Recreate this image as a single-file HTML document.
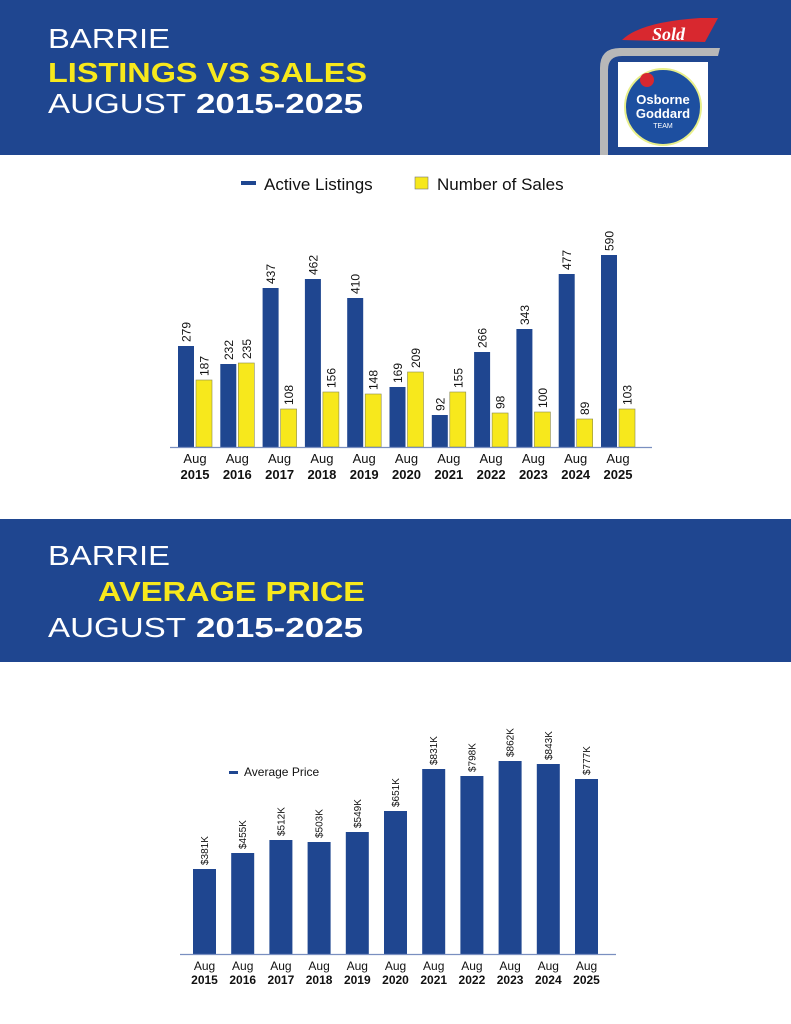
<!DOCTYPE html>
<html><head><meta charset="utf-8"><style>
html,body{margin:0;padding:0;background:#fff;}
svg{display:block;font-family:"Liberation Sans",Arial,sans-serif;}
</style></head><body>
<svg width="791" height="1024" viewBox="0 0 791 1024" xmlns="http://www.w3.org/2000/svg">
<rect x="0" y="0" width="791" height="155" fill="#1f4690"/>
<rect x="0" y="519" width="791" height="143" fill="#1f4690"/>
<g font-size="28" fill="#fff">
<text x="48" y="48" textLength="122" lengthAdjust="spacingAndGlyphs">BARRIE</text>
<text x="48" y="82" font-weight="bold" fill="#f7e81c" textLength="319" lengthAdjust="spacingAndGlyphs">LISTINGS VS SALES</text>
<text x="48" y="113" textLength="138" lengthAdjust="spacingAndGlyphs">AUGUST</text>
<text x="196" y="113" font-weight="bold" textLength="167" lengthAdjust="spacingAndGlyphs">2015-2025</text>
<text x="48" y="565" textLength="122" lengthAdjust="spacingAndGlyphs">BARRIE</text>
<text x="98" y="601" font-weight="bold" fill="#f7e81c" textLength="267" lengthAdjust="spacingAndGlyphs">AVERAGE PRICE</text>
<text x="48" y="637" textLength="138" lengthAdjust="spacingAndGlyphs">AUGUST</text>
<text x="196" y="637" font-weight="bold" textLength="167" lengthAdjust="spacingAndGlyphs">2015-2025</text>
</g>
<!-- logo -->
<path d="M622 40 Q640 22 700 18 L718 18 L705 42 Z" fill="#d8282f"/>
<text x="652" y="40" font-size="18" font-style="italic" font-weight="bold" fill="#fff" font-family="Liberation Serif,serif">Sold</text>
<path d="M600 155 L600 68 Q600 48 620 48 L720 48 L718 56 L622 56 Q608 56 608 70 L608 155 Z" fill="#b8b8b8"/>
<rect x="618" y="62" width="90" height="85" fill="#fff"/>
<circle cx="663" cy="107" r="38" fill="#1d4fa0" stroke="#e8ef8a" stroke-width="2"/>
<circle cx="647" cy="80" r="7" fill="#d8282f"/>
<text x="663" y="104" font-size="13" font-weight="bold" fill="#fff" text-anchor="middle">Osborne</text>
<text x="663" y="118" font-size="13" font-weight="bold" fill="#fff" text-anchor="middle">Goddard</text>
<text x="663" y="128" font-size="7" fill="#fff" text-anchor="middle">TEAM</text>
<!-- top legend -->
<rect x="241" y="181" width="15" height="4" fill="#1f4690"/>
<text x="264" y="190" font-size="17" fill="#111">Active Listings</text>
<rect x="415" y="177" width="13" height="12" fill="#f7e81c" stroke="#777" stroke-width="0.6"/>
<text x="437" y="190" font-size="17" fill="#111">Number of Sales</text>
<!-- top chart -->
<g fill="#1f4690">
<rect x="178" y="346" width="16" height="101"/>
<rect x="220.3" y="364" width="16" height="83"/>
<rect x="262.6" y="288" width="16" height="159"/>
<rect x="304.9" y="279" width="16" height="168"/>
<rect x="347.2" y="298" width="16" height="149"/>
<rect x="389.5" y="387" width="16" height="60"/>
<rect x="431.8" y="415" width="16" height="32"/>
<rect x="474.1" y="352" width="16" height="95"/>
<rect x="516.4" y="329" width="16" height="118"/>
<rect x="558.7" y="274" width="16" height="173"/>
<rect x="601" y="255" width="16" height="192"/>
</g>
<g fill="#f7e81c" stroke="#8a8a50" stroke-width="0.6">
<rect x="196" y="380" width="16" height="67"/>
<rect x="238.3" y="363" width="16" height="84"/>
<rect x="280.6" y="409" width="16" height="38"/>
<rect x="322.9" y="392" width="16" height="55"/>
<rect x="365.2" y="394" width="16" height="53"/>
<rect x="407.5" y="372" width="16" height="75"/>
<rect x="449.8" y="392" width="16" height="55"/>
<rect x="492.1" y="413" width="16" height="34"/>
<rect x="534.4" y="412" width="16" height="35"/>
<rect x="576.7" y="419" width="16" height="28"/>
<rect x="619" y="409" width="16" height="38"/>
</g>
<line x1="170" y1="447.5" x2="652" y2="447.5" stroke="#7a8fc0" stroke-width="1.2"/>
<g font-size="12" fill="#111">
<text transform="translate(190.5,342) rotate(-90)">279</text>
<text transform="translate(208.5,376) rotate(-90)">187</text>
<text transform="translate(232.8,360) rotate(-90)">232</text>
<text transform="translate(250.8,359) rotate(-90)">235</text>
<text transform="translate(275.1,284) rotate(-90)">437</text>
<text transform="translate(293.1,405) rotate(-90)">108</text>
<text transform="translate(317.4,275) rotate(-90)">462</text>
<text transform="translate(335.4,388) rotate(-90)">156</text>
<text transform="translate(359.7,294) rotate(-90)">410</text>
<text transform="translate(377.7,390) rotate(-90)">148</text>
<text transform="translate(402,383) rotate(-90)">169</text>
<text transform="translate(420,368) rotate(-90)">209</text>
<text transform="translate(444.3,411) rotate(-90)">92</text>
<text transform="translate(462.3,388) rotate(-90)">155</text>
<text transform="translate(486.6,348) rotate(-90)">266</text>
<text transform="translate(504.6,409) rotate(-90)">98</text>
<text transform="translate(528.9,325) rotate(-90)">343</text>
<text transform="translate(546.9,408) rotate(-90)">100</text>
<text transform="translate(571.2,270) rotate(-90)">477</text>
<text transform="translate(589.2,415) rotate(-90)">89</text>
<text transform="translate(613.5,251) rotate(-90)">590</text>
<text transform="translate(631.5,405) rotate(-90)">103</text>
</g>
<g font-size="13" fill="#111" text-anchor="middle">
<text x="195" y="463">Aug</text><text x="237.3" y="463">Aug</text><text x="279.6" y="463">Aug</text><text x="321.9" y="463">Aug</text><text x="364.2" y="463">Aug</text><text x="406.5" y="463">Aug</text><text x="448.8" y="463">Aug</text><text x="491.1" y="463">Aug</text><text x="533.4" y="463">Aug</text><text x="575.7" y="463">Aug</text><text x="618" y="463">Aug</text>
</g>
<g font-size="13" font-weight="bold" fill="#111" text-anchor="middle">
<text x="195" y="479">2015</text><text x="237.3" y="479">2016</text><text x="279.6" y="479">2017</text><text x="321.9" y="479">2018</text><text x="364.2" y="479">2019</text><text x="406.5" y="479">2020</text><text x="448.8" y="479">2021</text><text x="491.1" y="479">2022</text><text x="533.4" y="479">2023</text><text x="575.7" y="479">2024</text><text x="618" y="479">2025</text>
</g>
<!-- bottom legend -->
<rect x="229" y="771" width="9" height="3" fill="#1f4690"/>
<text x="244" y="776" font-size="12" fill="#111">Average Price</text>
<!-- bottom chart -->
<g fill="#1f4690">
<rect x="193" y="869" width="23" height="85"/>
<rect x="231.2" y="853" width="23" height="101"/>
<rect x="269.4" y="840" width="23" height="114"/>
<rect x="307.6" y="842" width="23" height="112"/>
<rect x="345.8" y="832" width="23" height="122"/>
<rect x="384" y="811" width="23" height="143"/>
<rect x="422.2" y="769" width="23" height="185"/>
<rect x="460.4" y="776" width="23" height="178"/>
<rect x="498.6" y="761" width="23" height="193"/>
<rect x="536.8" y="764" width="23" height="190"/>
<rect x="575" y="779" width="23" height="175"/>
</g>
<line x1="180" y1="954.5" x2="616" y2="954.5" stroke="#7a8fc0" stroke-width="1.2"/>
<g font-size="10" fill="#111">
<text transform="translate(208,865) rotate(-90)">$381K</text>
<text transform="translate(246.2,849) rotate(-90)">$455K</text>
<text transform="translate(284.4,836) rotate(-90)">$512K</text>
<text transform="translate(322.6,838) rotate(-90)">$503K</text>
<text transform="translate(360.8,828) rotate(-90)">$549K</text>
<text transform="translate(399,807) rotate(-90)">$651K</text>
<text transform="translate(437.2,765) rotate(-90)">$831K</text>
<text transform="translate(475.4,772) rotate(-90)">$798K</text>
<text transform="translate(513.6,757) rotate(-90)">$862K</text>
<text transform="translate(551.8,760) rotate(-90)">$843K</text>
<text transform="translate(590,775) rotate(-90)">$777K</text>
</g>
<g font-size="12" fill="#111" text-anchor="middle">
<text x="204.5" y="970">Aug</text><text x="242.7" y="970">Aug</text><text x="280.9" y="970">Aug</text><text x="319.1" y="970">Aug</text><text x="357.3" y="970">Aug</text><text x="395.5" y="970">Aug</text><text x="433.7" y="970">Aug</text><text x="471.9" y="970">Aug</text><text x="510.1" y="970">Aug</text><text x="548.3" y="970">Aug</text><text x="586.5" y="970">Aug</text>
</g>
<g font-size="12" font-weight="bold" fill="#111" text-anchor="middle">
<text x="204.5" y="984">2015</text><text x="242.7" y="984">2016</text><text x="280.9" y="984">2017</text><text x="319.1" y="984">2018</text><text x="357.3" y="984">2019</text><text x="395.5" y="984">2020</text><text x="433.7" y="984">2021</text><text x="471.9" y="984">2022</text><text x="510.1" y="984">2023</text><text x="548.3" y="984">2024</text><text x="586.5" y="984">2025</text>
</g>
</svg>
</body></html>
